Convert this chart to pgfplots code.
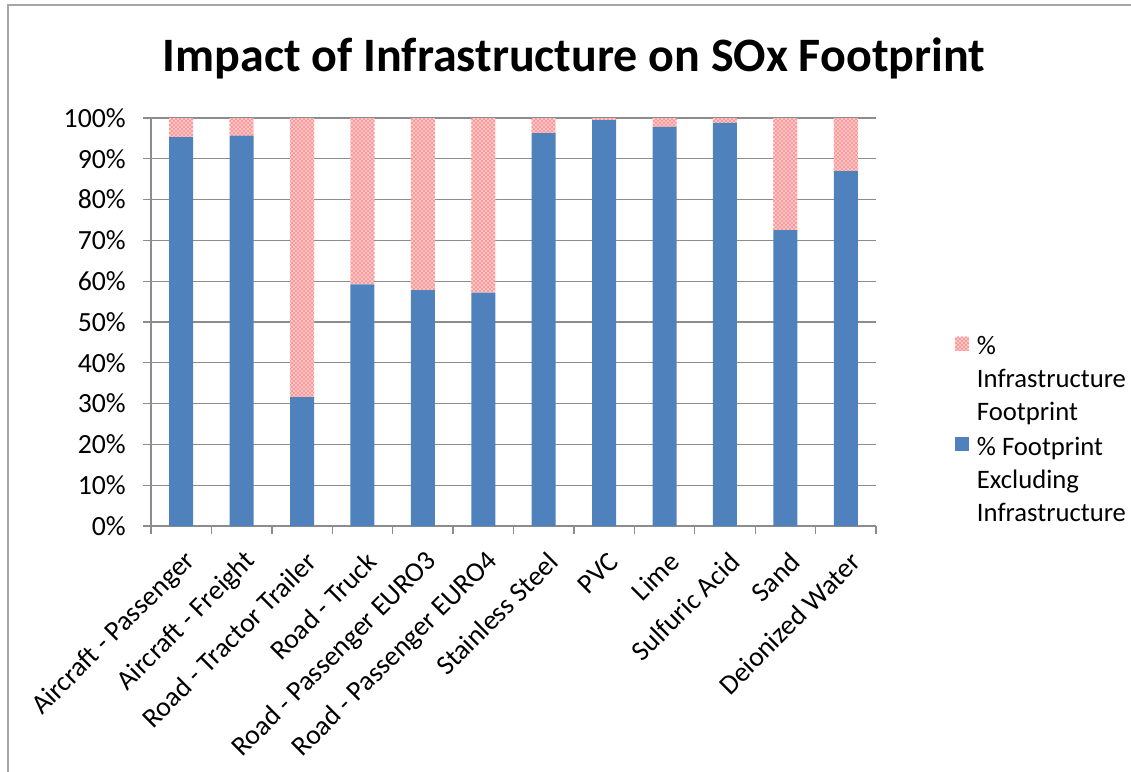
\documentclass[border=0pt]{standalone}
\usepackage{fontspec}
\setmainfont{Carlito}
\usepackage{pgfplots}
\pgfplotsset{compat=1.18}
\usetikzlibrary{patterns}
\definecolor{barblue}{HTML}{4F81BD}
\definecolor{axgray}{HTML}{8C8C8C}
\definecolor{framegray}{HTML}{A6A6A6}

\begin{document}
\begin{tikzpicture}
\useasboundingbox (0,0) rectangle (848.25pt,-578.25pt);
\clip (0,0) rectangle (848.25pt,-578.25pt);
\draw[framegray, line width=1.5pt] (6pt,-3.75pt) rectangle (900pt,-700pt);
\node[font=\fontsize{36}{42}\selectfont\bfseries, anchor=base] at (430.5pt,-53.25pt) {Impact of Infrastructure on SOx Footprint};
\begin{axis}[
    at={(113.25pt,-394.5pt)}, anchor=south west,
    scale only axis, width=543.75pt, height=306pt,
    ybar stacked, bar width=18pt,
    xmin=-0.5, xmax=11.5, ymin=0, ymax=100,
    enlarge x limits=false,
    axis x line=bottom, axis y line=left,
    axis line style={-, axgray, line width=1pt},
    xtick={0,...,11},
    xticklabels={Aircraft - Passenger, Aircraft - Freight, Road - Tractor Trailer, Road - Truck, Road - Passenger EURO3, Road - Passenger EURO4, Stainless Steel, PVC, Lime, Sulfuric Acid, Sand, Deionized Water},
    major x tick style={draw=none},
    minor xtick={-0.5,0.5,...,11.5},
    ytick={0,10,...,100},
    yticklabel={\pgfmathprintnumber{\tick}\%},
    /pgf/number format/assume math mode=true,
    ymajorgrids,
    grid style={axgray, line width=1pt},
    tick align=outside, major tick length=6pt, minor tick length=6pt,
    tick style={axgray, line width=1pt},
    ticklabel style={font=\fontsize{20.8}{25}\selectfont},
    yticklabel style={inner sep=0pt, xshift=-12.75pt},
    xticklabel style={rotate=45, anchor=east, inner sep=2pt, xshift=-5pt, yshift=-17.5pt},
    legend style={draw=none, at={(1.103,0.49)}, anchor=north west,
        font=\fontsize{20}{24.75}\selectfont, cells={anchor=west}, row sep=52.5pt},
    legend cell align=left,
    reverse legend,
    legend image code/.code={\draw[#1, draw=none] (0pt,-5pt) rectangle (10.5pt,5.5pt);},
]
\addplot[fill=barblue, draw=none] coordinates {
    (0,95.3) (1,95.7) (2,31.6) (3,59.2) (4,57.8) (5,57.2)
    (6,96.3) (7,99.5) (8,97.8) (9,98.8) (10,72.5) (11,87.0)};
\addlegendentry{\hspace{4pt}\begin{tabular}[t]{@{}l@{}}\% Footprint\\Excluding\\Infrastructure\end{tabular}}
\addplot[fill=red!22, draw=none, postaction={pattern=crosshatch dots, pattern color=red}] coordinates {
    (0,4.7) (1,4.3) (2,68.4) (3,40.8) (4,42.2) (5,42.8)
    (6,3.7) (7,0.5) (8,2.2) (9,1.2) (10,27.5) (11,13.0)};
\addlegendentry{\hspace{4pt}\begin{tabular}[t]{@{}l@{}}\%\\Infrastructure\\Footprint\end{tabular}}
\end{axis}
\end{tikzpicture}
\end{document}
